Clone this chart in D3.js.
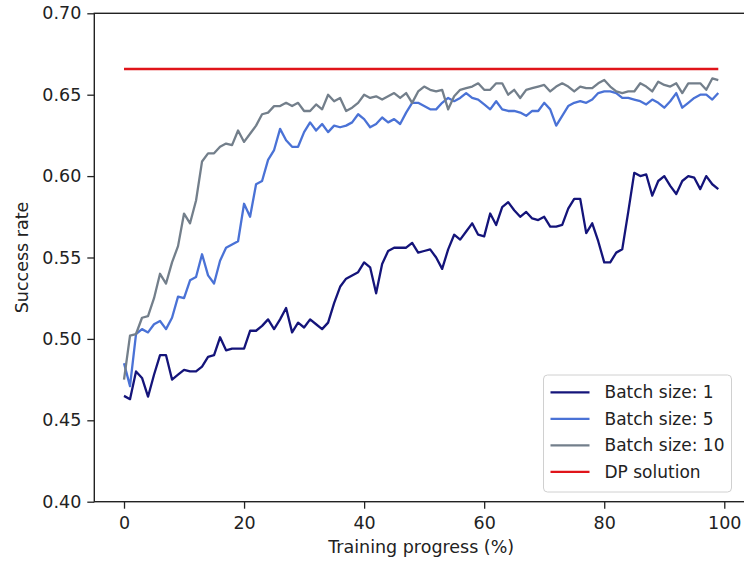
<!DOCTYPE html>
<html>
<head>
<meta charset="utf-8">
<script src="https://cdn.jsdelivr.net/npm/d3@7"></script>
<style>
	body { margin: 0; background: #ffffff; }
	svg { display: block; font-family: "DejaVu Sans", sans-serif; }
</style>
</head>
<body>
<svg id="chart"></svg>
<script>
// data
var progress = [0,1,2,3,4,5,6,7,8,9,10,11,12,13,14,15,16,17,18,19,20,21,22,23,24,25,26,27,28,29,
	30,31,32,33,34,35,36,37,38,39,40,41,42,43,44,45,46,47,48,49,50,51,52,53,54,55,56,57,58,59,
	60,61,62,63,64,65,66,67,68,69,70,71,72,73,74,75,76,77,78,79,80,81,82,83,84,85,86,87,88,89,
	90,91,92,93,94,95,96,97,98,99];

var batch1 = [0.465,0.463,0.480,0.476,0.4645,0.478,0.490,0.490,0.475,0.478,
	0.481,0.480,0.480,0.483,0.489,0.490,0.501,0.493,0.494,0.494,
	0.494,0.505,0.505,0.508,0.512,0.506,0.512,0.519,0.504,0.510,
	0.507,0.512,0.509,0.506,0.510,0.522,0.532,0.537,0.539,0.541,
	0.547,0.544,0.528,0.546,0.554,0.556,0.556,0.556,0.559,0.553,
	0.554,0.555,0.550,0.543,0.555,0.564,0.561,0.566,0.571,0.564,
	0.563,0.577,0.570,0.581,0.584,0.579,0.575,0.578,0.574,0.573,
	0.575,0.569,0.569,0.570,0.580,0.586,0.586,0.565,0.571,0.560,
	0.547,0.547,0.553,0.555,0.578,0.602,0.600,0.601,0.588,0.597,
	0.600,0.594,0.589,0.597,0.600,0.599,0.592,0.600,0.595,0.592];

var batch5 = [0.485,0.471,0.503,0.506,0.504,0.509,0.511,0.506,0.513,0.526,
	0.525,0.536,0.538,0.552,0.539,0.534,0.548,0.556,0.558,0.560,
	0.583,0.575,0.595,0.597,0.610,0.616,0.629,0.622,0.618,0.618,
	0.627,0.633,0.628,0.632,0.627,0.631,0.630,0.631,0.633,0.638,
	0.635,0.630,0.632,0.636,0.633,0.635,0.632,0.639,0.645,0.645,
	0.643,0.641,0.641,0.645,0.648,0.646,0.648,0.651,0.648,0.647,
	0.644,0.641,0.646,0.641,0.640,0.640,0.639,0.637,0.640,0.640,
	0.645,0.641,0.631,0.637,0.643,0.645,0.646,0.645,0.647,0.651,
	0.652,0.652,0.651,0.648,0.648,0.647,0.646,0.644,0.647,0.645,
	0.642,0.646,0.651,0.642,0.645,0.648,0.650,0.650,0.647,0.651];

var batch10 = [0.475,0.502,0.503,0.513,0.514,0.525,0.540,0.534,0.547,0.557,
	0.577,0.571,0.585,0.609,0.614,0.614,0.618,0.620,0.619,0.628,
	0.621,0.626,0.631,0.638,0.639,0.643,0.643,0.645,0.643,0.645,
	0.640,0.640,0.644,0.641,0.650,0.646,0.648,0.640,0.642,0.645,
	0.650,0.648,0.649,0.647,0.649,0.651,0.648,0.651,0.645,0.652,
	0.655,0.653,0.652,0.653,0.641,0.649,0.653,0.654,0.655,0.657,
	0.653,0.653,0.657,0.657,0.650,0.653,0.648,0.653,0.654,0.655,
	0.656,0.652,0.655,0.657,0.655,0.652,0.655,0.654,0.654,0.657,
	0.659,0.655,0.652,0.651,0.652,0.652,0.657,0.655,0.652,0.658,
	0.656,0.655,0.657,0.651,0.657,0.657,0.657,0.653,0.660,0.659];

var dpValue = 0.6658;
var dpRange = [0, 99];

var seriesNames = ["Batch size: 1", "Batch size: 5", "Batch size: 10", "DP solution"];
var xTicks = [0, 20, 40, 60, 80, 100];
var yTicks = [0.40, 0.45, 0.50, 0.55, 0.60, 0.65, 0.70];

var W = 744, H = 563;
var colors = ["#14147a", "#4a72d6", "#737f8b", "#e0141a"];
var fontSize = "17.5px";

var svg = d3.select("#chart")
			.attr("width", W)
			.attr("height", H);

// plot area (right spine sits just outside the picture)
var plot = {"left": 94.3, "right": 748, "top": 13.3, "bottom": 501.7};

var x = d3.scaleLinear()
		  .domain([-4.95, 103.95])
		  .range([plot.left, plot.right]);
var y = d3.scaleLinear()
		  .domain([0.40, 0.70])
		  .range([plot.bottom, plot.top]);

// series
var lines = [batch1, batch5, batch10];
var line = d3.line()
			 .x(function(d, i){ return x(progress[i]); })
			 .y(function(d){ return y(d); })
			 .curve(d3.curveLinear);

var gLines = svg.append("g").attr("class", "lines");
gLines.selectAll("path.series")
	  .data(lines)
	  .enter()
	  .append("path")
		  .attr("class", "series")
		  .attr("d", line)
		  .attr("fill", "none")
		  .attr("stroke", function(d, i){ return colors[i]; })
		  .attr("stroke-width", 2.3)
		  .attr("stroke-linejoin", "round");

gLines.append("path")
	  .attr("d", d3.line()
				   .x(function(d){ return x(d); })
				   .y(function(){ return y(dpValue); })(dpRange))
	  .attr("fill", "none")
	  .attr("stroke", colors[3])
	  .attr("stroke-width", 2.3);

// axes
var xAxis = d3.axisBottom(x)
			  .tickValues(xTicks)
			  .tickFormat(d3.format("d"))
			  .tickSize(7)
			  .tickSizeOuter(0)
			  .tickPadding(8);
var yAxis = d3.axisLeft(y)
			  .tickValues(yTicks)
			  .tickFormat(d3.format(".2f"))
			  .tickSize(7)
			  .tickSizeOuter(0)
			  .tickPadding(6);

var gx = svg.append("g")
			.attr("transform", "translate(0," + plot.bottom + ")")
			.call(xAxis);
var gy = svg.append("g")
			.attr("transform", "translate(" + plot.left + ",0)")
			.call(yAxis);

[gx, gy].forEach(function(g){
	g.select(".domain").remove();
	g.selectAll("line").attr("stroke", "#222").attr("stroke-width", 1.3);
	g.selectAll("text")
	 .attr("fill", "#222")
	 .style("font-size", fontSize)
	 .style("font-family", "DejaVu Sans, sans-serif");
});

// spines
svg.append("rect")
   .attr("x", plot.left)
   .attr("y", plot.top)
   .attr("width", plot.right - plot.left)
   .attr("height", plot.bottom - plot.top)
   .attr("fill", "none")
   .attr("stroke", "#222")
   .attr("stroke-width", 1.4);

// axis labels
svg.append("text")
   .attr("x", (plot.left + plot.right) / 2)
   .attr("y", 553)
   .attr("text-anchor", "middle")
   .attr("fill", "#222")
   .style("font-size", fontSize)
   .text("Training progress (%)");

svg.append("text")
   .attr("transform", "translate(28.3," + ((plot.top + plot.bottom) / 2) + ") rotate(-90)")
   .attr("text-anchor", "middle")
   .attr("fill", "#222")
   .style("font-size", fontSize)
   .text("Success rate");

// legend
var legend = svg.append("g")
				.attr("class", "legend")
				.attr("transform", "translate(543.5,375)");
legend.append("rect")
	  .attr("width", 188)
	  .attr("height", 117)
	  .attr("rx", 4)
	  .attr("fill", "#ffffff")
	  .attr("fill-opacity", 0.8)
	  .attr("stroke", "#d0d0d0")
	  .attr("stroke-width", 1);

var rows = legend.selectAll("g.row")
				 .data(seriesNames)
				 .enter()
				 .append("g")
					 .attr("class", "row")
					 .attr("transform", function(d, i){ return "translate(0," + (17.3 + i * 26.5) + ")"; });
rows.append("line")
	.attr("x1", 7)
	.attr("x2", 46)
	.attr("stroke", function(d, i){ return colors[i]; })
	.attr("stroke-width", 2.3);
rows.append("text")
	.attr("x", 61)
	.attr("dy", "0.36em")
	.attr("fill", "#222")
	.style("font-size", "17px")
	.text(function(d){ return d; });
</script>
</body>
</html>
